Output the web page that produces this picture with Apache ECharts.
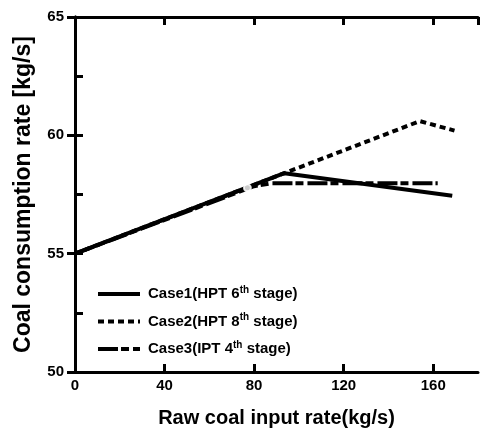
<!DOCTYPE html>
<html>
<head>
<meta charset="utf-8">
<script src="https://cdn.jsdelivr.net/npm/echarts@6/dist/echarts.min.js"></script>
<style>
  html, body { margin: 0; padding: 0; background: #fff; }
  #chart { width: 480px; height: 428px; }
</style>
</head>
<body>
<div id="chart"></div>
<script>
// data
const case1 = [[0, 55.0], [93.5, 58.4], [168.5, 57.45]];
const case2 = [[0, 55.0], [154, 60.6], [169.5, 60.2]];
const case3 = [[0, 55.0], [80, 57.85], [88, 57.98], [162, 57.98]];
const markerPoint = [[77, 57.78]];
const seriesNames = ['Case1', 'Case2', 'Case3'];
const seriesStages = [['HPT', '6'], ['HPT', '8'], ['IPT', '4']];
const xTicks = [0, 40, 80, 120, 160];
const yTicks = [50, 55, 60, 65];

const font = '"Liberation Sans", Arial, sans-serif';
const chart = echarts.init(document.getElementById('chart'));

// "Case1(HPT 6th stage)" with superscript th
const legendLabel = name => {
  const i = seriesNames.indexOf(name);
  const s = seriesStages[i];
  return name + '(' + s[0] + ' ' + s[1] + '{sup|th} stage)';
};

const option = {
  animation: false,
  grid: { left: 75, right: 2, top: 17, bottom: 56, outerBoundsMode: 'none', containLabel: false },
  legend: {
    orient: 'vertical',
    left: 91,
    top: 280,
    itemGap: 11,
    itemWidth: 42,
    itemHeight: 14,
    data: seriesNames,
    formatter: legendLabel,
    itemStyle: { opacity: 0 },
    lineStyle: { width: 4 },
    textStyle: {
      fontFamily: font, fontWeight: 'bold', fontSize: 15, color: '#000',
      padding: [0, 0, 0, 3],
      rich: {
        sup: { fontFamily: font, fontWeight: 'bold', fontSize: 10, verticalAlign: 'top', padding: [0, 0, 8, 0] }
      }
    }
  },
  xAxis: [
    {
      type: 'value', min: 0, max: 180, interval: 40,
      name: 'Raw coal input rate(kg/s)', nameLocation: 'middle', nameGap: 36,
      nameTextStyle: { fontFamily: font, fontWeight: 'bold', fontSize: 20, color: '#000' },
      axisLine: { lineStyle: { color: '#000', width: 3 } },
      axisTick: { inside: true, length: 8, lineStyle: { width: 3 } },
      axisLabel: {
        showMaxLabel: false, margin: 6, color: '#000',
        fontFamily: font, fontWeight: 'bold', fontSize: 15,
        formatter: v => (xTicks.includes(v) ? String(v) : '')
      },
      splitLine: { show: false }
    },
    {
      type: 'value', position: 'top', min: 0, max: 180, interval: 40,
      axisLine: { lineStyle: { color: '#000', width: 3 } },
      axisTick: { inside: true, length: 8, lineStyle: { width: 3 } },
      axisLabel: { show: false },
      splitLine: { show: false }
    }
  ],
  yAxis: [
    {
      type: 'value', min: 50, max: 65, interval: 2.5,
      name: 'Coal consumption rate [kg/s]', nameLocation: 'middle', nameGap: 40,
      nameTextStyle: { fontFamily: font, fontWeight: 'bold', fontSize: 23, color: '#000' },
      axisLine: { lineStyle: { color: '#000', width: 3 } },
      axisTick: { inside: true, length: 8, lineStyle: { width: 3 } },
      axisLabel: {
        margin: 11, color: '#000',
        fontFamily: font, fontWeight: 'bold', fontSize: 15,
        formatter: v => (yTicks.includes(v) ? String(v) : '')
      },
      splitLine: { show: false }
    },
    {
      type: 'value', position: 'right', min: 50, max: 65, interval: 5,
      axisLine: { show: true, lineStyle: { color: '#000', width: 3 } },
      axisTick: { inside: true, length: 8, lineStyle: { width: 3 } },
      axisLabel: { show: false },
      splitLine: { show: false }
    }
  ],
  series: [
    {
      name: 'Case1', type: 'line', data: case1, symbol: 'none',
      lineStyle: { color: '#000', width: 4 }, itemStyle: { color: '#000' }
    },
    {
      name: 'Case2', type: 'line', data: case2, symbol: 'none',
      lineStyle: { color: '#000', width: 4, type: [6, 4] }, itemStyle: { color: '#000' }
    },
    {
      name: 'Case3', type: 'line', data: case3, symbol: 'none',
      lineStyle: { color: '#000', width: 4, type: [20, 3, 8, 4] }, itemStyle: { color: '#000' }
    },
    {
      name: 'marker', type: 'scatter', data: markerPoint,
      symbol: 'emptyCircle', symbolSize: 7,
      itemStyle: { color: '#fff', borderColor: '#666', borderWidth: 1 }, z: 5
    }
  ]
};

chart.setOption(option);
</script>
</body>
</html>
